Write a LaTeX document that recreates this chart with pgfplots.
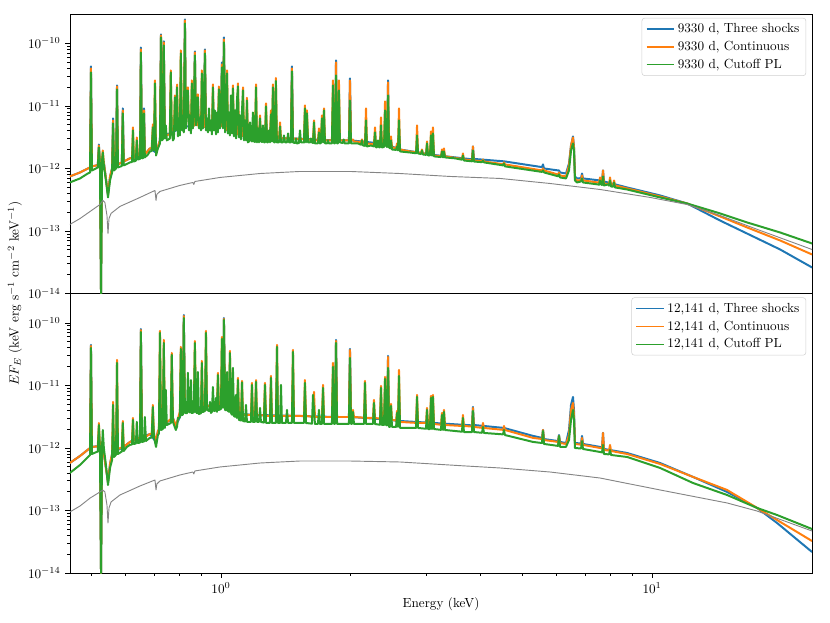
\documentclass[border=0pt]{standalone}
\usepackage{pgfplots}
\pgfplotsset{compat=1.18}
\definecolor{cb}{HTML}{1F77B4}
\definecolor{co}{HTML}{FF7F0E}
\definecolor{cg}{HTML}{2CA02C}
\definecolor{cgr}{HTML}{858585}
\begin{document}
\begin{tikzpicture}
\useasboundingbox (-53.0pt,-37.1pt) rectangle (575.9pt,434.2pt);
% ---------------- bottom panel ----------------
\begin{axis}[at={(0pt,0pt)}, anchor=south west,
  scale only axis, width=562.3pt, height=211.8pt,
  xmode=log, ymode=log, xmin=0.4464, xmax=23.5, ymin=1e-14, ymax=2.95e-10,
  tick align=outside, xtick pos=left, ytick pos=left,
  major tick length=3.5pt, minor tick length=2pt,
  tick style={black, line width=0.5pt},
  axis line style={line width=0.6pt},
  tick label style={font=\fontsize{10}{12}\selectfont},
  legend cell align=left,
  legend style={at={(0.992,0.986)}, anchor=north east, draw=black!18, rounded corners=2pt,
    font=\fontsize{10}{12}\selectfont, inner xsep=3pt, inner ysep=2pt, row sep=1pt},
  legend image code/.code={\draw[#1, line width=1.1pt] (0pt,0pt) -- (21pt,0pt);}]
\addplot[cb, line width=1.5pt, line join=round] coordinates {(0.446,5.75e-13)(0.471,7.45e-13)(0.497,1.0e-12)(0.4994,4.45e-11)(0.502,1.04e-12)(0.524,1.08e-12)(0.527,1e-14)(0.530,1.25e-12)(0.547,2.86e-13)(0.553,5.55e-13)(0.559,8.0e-13)(0.565,8.63e-13)(0.595,1.04e-12)(0.615,1.25e-12)(0.649,1.48e-12)(0.652,8.02e-11)(0.656,1.50e-12)(0.684,1.67e-12)(0.707,1.25e-12)(0.714,1.87e-12)(0.741,2.42e-12)(0.774,3.02e-12)(0.786,2.25e-12)(0.816,4.0e-12)(0.820,1.34e-10)(0.825,4.21e-12)(0.875,4.37e-12)(0.928,4.70e-12)(1.011,5.06e-12)(1.016,1.20e-10)(1.022,4.70e-12)(1.101,3.50e-12)(1.212,3.37e-12)(1.525,3.25e-12)(1.839,3.13e-12)(1.849,5.35e-11)(1.859,3.13e-12)(1.981,3.13e-12)(1.992,3.84e-11)(2.003,3.13e-12)(2.428,2.85e-12)(2.441,2.97e-11)(2.454,2.81e-12)(2.602,2.70e-12)(3.120,2.51e-12)(3.822,2.30e-12)(3.842,4.53e-12)(3.862,2.33e-12)(4.534,2.09e-12)(5.294,1.56e-12)(5.555,1.45e-12)(5.585,1.94e-12)(5.615,1.39e-12)(6.05,1.29e-12)(6.083,1.61e-12)(6.116,1.25e-12)(6.315,1.20e-12)(6.417,1.94e-12)(6.486,4.88e-12)(6.555,6.55e-12)(6.590,4.06e-12)(6.625,1.20e-12)(6.843,1.18e-12)(6.879,1.56e-12)(6.916,1.16e-12)(7.574,1.04e-12)(7.655,1.02e-12)(7.696,1.74e-12)(7.737,9.64e-13)(8.750,8.32e-13)(10.44,5.75e-13)(12.45,3.44e-13)(14.93,1.98e-13)(17.52,1.10e-13)(19.50,6.31e-14)(23.50,2.17e-14)};
\addlegendentry{12,141 d, Three shocks}
\addplot[co, line width=1.5pt, line join=round] coordinates {(0.446,5.75e-13)(0.471,7.45e-13)(0.497,1.0e-12)(0.4994,4.29e-11)(0.502,1.04e-12)(0.518,1.06e-12)(0.521,2.51e-12)(0.524,1.08e-12)(0.527,1e-14)(0.530,1.25e-12)(0.547,2.86e-13)(0.553,5.55e-13)(0.559,8.0e-13)(0.562,5.45e-12)(0.565,8.63e-13)(0.571,9.3e-13)(0.574,2.56e-11)(0.577,9.64e-13)(0.589,1.02e-12)(0.592,2.70e-12)(0.595,1.04e-12)(0.615,1.25e-12)(0.622,1.3e-12)(0.625,3.02e-12)(0.628,1.34e-12)(0.649,1.48e-12)(0.652,7.73e-11)(0.656,1.50e-12)(0.674,1.56e-12)(0.684,1.67e-12)(0.691,1.7e-12)(0.695,4.88e-12)(0.699,1.74e-12)(0.707,1.25e-12)(0.714,1.87e-12)(0.718,1.95e-12)(0.722,7.45e-11)(0.726,2.25e-12)(0.733,2.35e-12)(0.737,5.35e-11)(0.741,2.42e-12)(0.765,2.9e-12)(0.769,3.31e-11)(0.774,3.02e-12)(0.786,2.25e-12)(0.803,3.8e-12)(0.807,4.13e-11)(0.812,3.91e-12)(0.816,4.0e-12)(0.820,1.29e-10)(0.825,4.21e-12)(0.865,4.3e-12)(0.870,5.15e-11)(0.875,4.37e-12)(0.899,4.37e-12)(0.903,2.47e-11)(0.908,4.37e-12)(0.918,4.5e-12)(0.923,7.45e-11)(0.928,4.70e-12)(0.979,4.7e-12)(0.984,1.59e-11)(0.989,4.70e-12)(1.000,4.9e-12)(1.005,5.97e-11)(1.011,5.06e-12)(1.016,1.16e-10)(1.022,4.70e-12)(1.044,4.3e-12)(1.049,3.57e-11)(1.055,4.21e-12)(1.089,3.55e-12)(1.095,1.32e-11)(1.101,3.50e-12)(1.113,3.4e-12)(1.119,1.18e-11)(1.125,3.37e-12)(1.174,3.37e-12)(1.180,1.10e-11)(1.186,3.37e-12)(1.199,3.37e-12)(1.206,1.22e-11)(1.212,3.37e-12)(1.258,3.3e-12)(1.265,1.10e-11)(1.272,3.25e-12)(1.299,3.25e-12)(1.306,1.42e-11)(1.313,3.25e-12)(1.341,3.25e-12)(1.349,4.45e-11)(1.356,3.25e-12)(1.461,3.25e-12)(1.469,3.70e-11)(1.477,3.25e-12)(1.558,3.25e-12)(1.566,1.22e-11)(1.575,3.25e-12)(1.635,3.15e-12)(1.644,7.87e-12)(1.652,3.13e-12)(1.715,3.13e-12)(1.725,1.02e-11)(1.734,3.13e-12)(1.809,3.13e-12)(1.819,2.29e-11)(1.829,3.13e-12)(1.839,3.13e-12)(1.849,5.15e-11)(1.859,3.13e-12)(1.981,3.13e-12)(1.992,3.70e-11)(2.003,3.13e-12)(2.013,3.13e-12)(2.024,4.06e-12)(2.035,3.13e-12)(2.147,3.05e-12)(2.158,1.18e-11)(2.170,3.02e-12)(2.252,3.02e-12)(2.264,5.86e-12)(2.277,3.02e-12)(2.338,2.95e-12)(2.351,9.82e-12)(2.363,2.91e-12)(2.389,2.91e-12)(2.402,1.37e-11)(2.415,2.91e-12)(2.428,2.85e-12)(2.441,2.86e-11)(2.454,2.81e-12)(2.467,2.81e-12)(2.480,5.06e-12)(2.493,2.81e-12)(2.548,2.75e-12)(2.561,3.91e-12)(2.574,2.70e-12)(2.588,1.77e-11)(2.602,2.61e-12)(2.835,2.52e-12)(2.850,7.05e-12)(2.865,2.51e-12)(2.990,2.51e-12)(3.006,4.37e-12)(3.022,2.51e-12)(3.054,2.51e-12)(3.070,6.79e-12)(3.087,2.51e-12)(3.103,7.05e-12)(3.120,2.42e-12)(3.239,2.35e-12)(3.256,3.63e-12)(3.274,2.33e-12)(3.291,4.06e-12)(3.309,2.33e-12)(3.623,2.25e-12)(3.642,3.37e-12)(3.661,2.25e-12)(3.822,2.2e-12)(3.842,4.37e-12)(3.862,2.17e-12)(4.032,2.1e-12)(4.053,2.51e-12)(4.074,2.09e-12)(4.510,1.95e-12)(4.534,2.25e-12)(4.558,1.94e-12)(5.294,1.45e-12)(5.555,1.39e-12)(5.585,1.94e-12)(5.615,1.34e-12)(6.05,1.25e-12)(6.083,1.56e-12)(6.116,1.20e-12)(6.315,1.16e-12)(6.417,1.61e-12)(6.486,4.06e-12)(6.555,5.25e-12)(6.590,3.37e-12)(6.625,1.16e-12)(6.843,1.13e-12)(6.879,1.45e-12)(6.916,1.12e-12)(7.574,1.0e-12)(7.655,9.9e-13)(7.696,1.74e-12)(7.737,9.29e-13)(7.947,9.1e-13)(7.990,1.12e-12)(8.033,8.95e-13)(8.750,8.02e-13)(10.44,5.55e-13)(12.45,3.44e-13)(14.93,2.13e-13)(17.52,1.10e-13)(19.50,7.05e-14)(23.50,3.25e-14)};
\addlegendentry{12,141 d, Continuous}
\addplot[cg, line width=1.5pt, line join=round] coordinates {(0.446,3.98e-13)(0.471,5.35e-13)(0.497,7.73e-13)(0.4994,3.98e-11)(0.502,8.02e-13)(0.518,8.8e-13)(0.521,2.33e-12)(0.524,9.29e-13)(0.527,1e-14)(0.530,1.08e-12)(0.532,1.94e-12)(0.535,1.0e-12)(0.541,5.35e-13)(0.547,2.56e-13)(0.553,4.79e-13)(0.559,6.43e-13)(0.562,4.88e-12)(0.565,7.18e-13)(0.571,7.8e-13)(0.574,2.29e-11)(0.577,8.02e-13)(0.589,8.8e-13)(0.592,2.51e-12)(0.595,8.95e-13)(0.605,1.04e-12)(0.615,1.12e-12)(0.622,1.14e-12)(0.625,2.81e-12)(0.628,1.16e-12)(0.635,1.18e-12)(0.638,2.61e-12)(0.642,1.20e-12)(0.649,1.22e-12)(0.652,7.18e-11)(0.656,1.25e-12)(0.663,1.27e-12)(0.666,3.13e-12)(0.670,1.29e-12)(0.674,1.34e-12)(0.684,1.45e-12)(0.691,1.47e-12)(0.695,4.53e-12)(0.699,1.50e-12)(0.707,1.04e-12)(0.714,1.61e-12)(0.718,1.7e-12)(0.722,6.92e-11)(0.726,1.94e-12)(0.733,2.0e-12)(0.737,4.79e-11)(0.741,2.09e-12)(0.745,8.47e-12)(0.749,2.33e-12)(0.765,2.5e-12)(0.769,3.08e-11)(0.774,2.61e-12)(0.786,1.94e-12)(0.791,2.2e-12)(0.795,3.02e-12)(0.799,3.0e-12)(0.803,3.1e-12)(0.807,3.84e-11)(0.812,3.37e-12)(0.816,3.4e-12)(0.820,1.20e-10)(0.825,3.63e-12)(0.834,3.6e-12)(0.838,1.59e-11)(0.843,3.77e-12)(0.847,3.7e-12)(0.852,1.22e-11)(0.856,3.63e-12)(0.865,3.7e-12)(0.870,4.79e-11)(0.875,3.77e-12)(0.880,3.6e-12)(0.884,1.64e-11)(0.889,3.50e-12)(0.899,3.6e-12)(0.903,2.29e-11)(0.908,3.77e-12)(0.918,3.9e-12)(0.923,6.92e-11)(0.928,4.06e-12)(0.938,3.9e-12)(0.943,5.45e-12)(0.948,3.63e-12)(0.953,3.8e-12)(0.958,9.46e-12)(0.963,3.91e-12)(0.968,3.9e-12)(0.974,6.31e-12)(0.979,3.77e-12)(0.984,1.47e-11)(0.989,4.06e-12)(1.000,4.2e-12)(1.005,5.55e-11)(1.011,4.37e-12)(1.016,1.12e-10)(1.022,4.06e-12)(1.027,4.0e-12)(1.033,1.64e-11)(1.038,3.91e-12)(1.044,3.8e-12)(1.049,3.31e-11)(1.055,3.63e-12)(1.061,3.4e-12)(1.066,1.91e-11)(1.072,3.25e-12)(1.078,3.15e-12)(1.084,7.05e-12)(1.089,3.02e-12)(1.095,1.22e-11)(1.101,2.81e-12)(1.113,2.75e-12)(1.119,1.12e-11)(1.125,2.70e-12)(1.137,2.65e-12)(1.143,4.88e-12)(1.149,2.61e-12)(1.174,2.61e-12)(1.180,1.02e-11)(1.186,2.61e-12)(1.199,2.61e-12)(1.206,1.14e-11)(1.212,2.61e-12)(1.225,2.61e-12)(1.232,4.37e-12)(1.238,2.61e-12)(1.258,2.55e-12)(1.265,1.02e-11)(1.272,2.51e-12)(1.299,2.51e-12)(1.306,1.32e-11)(1.313,2.51e-12)(1.341,2.51e-12)(1.349,4.13e-11)(1.356,2.51e-12)(1.371,2.51e-12)(1.378,1.02e-11)(1.385,2.51e-12)(1.415,2.51e-12)(1.423,4.06e-12)(1.431,2.51e-12)(1.461,2.51e-12)(1.469,3.44e-11)(1.477,2.51e-12)(1.525,2.51e-12)(1.558,2.51e-12)(1.566,1.10e-11)(1.575,2.51e-12)(1.626,2.45e-12)(1.635,7.05e-12)(1.652,2.42e-12)(1.679,2.42e-12)(1.688,4.06e-12)(1.697,2.42e-12)(1.715,2.42e-12)(1.725,9.12e-12)(1.734,2.42e-12)(1.809,2.42e-12)(1.819,1.98e-11)(1.829,2.42e-12)(1.839,2.42e-12)(1.849,4.79e-11)(1.859,2.42e-12)(1.981,2.42e-12)(1.992,2.75e-11)(2.003,2.42e-12)(2.013,2.42e-12)(2.024,3.77e-12)(2.035,2.42e-12)(2.147,2.42e-12)(2.158,1.10e-11)(2.170,2.42e-12)(2.252,2.42e-12)(2.264,5.25e-12)(2.277,2.42e-12)(2.338,2.35e-12)(2.351,9.12e-12)(2.363,2.33e-12)(2.389,2.33e-12)(2.402,1.27e-11)(2.415,2.33e-12)(2.428,2.3e-12)(2.441,1.91e-11)(2.454,2.17e-12)(2.467,2.17e-12)(2.480,4.70e-12)(2.493,2.17e-12)(2.548,2.17e-12)(2.561,3.63e-12)(2.574,2.17e-12)(2.588,1.42e-11)(2.602,2.09e-12)(2.835,2.09e-12)(2.850,6.55e-12)(2.865,2.09e-12)(2.990,2.03e-12)(3.006,4.06e-12)(3.022,2.01e-12)(3.054,2.01e-12)(3.070,6.31e-12)(3.087,2.01e-12)(3.103,6.55e-12)(3.120,2.01e-12)(3.239,1.95e-12)(3.256,3.37e-12)(3.274,1.94e-12)(3.291,3.77e-12)(3.309,1.94e-12)(3.623,1.82e-12)(3.642,3.02e-12)(3.661,1.80e-12)(3.822,1.80e-12)(3.842,3.91e-12)(3.862,1.80e-12)(4.032,1.75e-12)(4.053,2.17e-12)(4.074,1.74e-12)(4.510,1.65e-12)(4.534,1.94e-12)(4.558,1.61e-12)(5.294,1.25e-12)(5.555,1.20e-12)(5.585,1.87e-12)(5.615,1.16e-12)(6.05,1.08e-12)(6.083,1.56e-12)(6.116,1.04e-12)(6.315,1.04e-12)(6.417,1.34e-12)(6.486,2.81e-12)(6.555,4.06e-12)(6.590,2.81e-12)(6.625,1.0e-12)(6.843,9.8e-13)(6.879,1.29e-12)(6.916,9.64e-13)(7.574,8.63e-13)(7.655,8.5e-13)(7.696,1.12e-12)(7.737,8.02e-13)(7.947,7.9e-13)(7.990,9.29e-13)(8.033,7.73e-13)(8.750,7.18e-13)(10.44,4.79e-13)(12.45,2.75e-13)(14.93,1.77e-13)(17.52,1.10e-13)(19.50,8.47e-14)(23.50,5.06e-14)};
\addlegendentry{12,141 d, Cutoff PL}
\addplot[cgr, line width=0.7pt, line join=round, forget plot] coordinates {(0.446,9.46e-14)(0.471,1.18e-13)(0.497,1.58e-13)(0.524,1.98e-13)(0.532,2.13e-13)(0.538,1.98e-13)(0.544,1.22e-13)(0.547,6.31e-14)(0.550,1.10e-13)(0.556,1.37e-13)(0.583,1.77e-13)(0.649,2.47e-13)(0.703,3.08e-13)(0.707,2.13e-13)(0.710,2.65e-13)(0.722,2.97e-13)(0.803,3.70e-13)(0.861,4.13e-13)(0.865,3.84e-13)(0.870,4.29e-13)(0.995,4.97e-13)(1.232,5.75e-13)(1.525,6.19e-13)(1.992,6.19e-13)(2.602,5.97e-13)(3.702,5.15e-13)(4.439,4.79e-13)(5.798,4.13e-13)(7.574,3.31e-13)(10.44,2.13e-13)(14.93,1.32e-13)(17.52,9.82e-14)(23.50,4.70e-14)};
\end{axis}
% ---------------- top panel ----------------
\begin{axis}[at={(0pt,211.8pt)}, anchor=south west,
  scale only axis, width=562.3pt, height=211.8pt,
  xmode=log, ymode=log, xmin=0.4464, xmax=23.5, ymin=1e-14, ymax=2.95e-10,
  tick align=outside, ytick pos=left, xmajorticks=false, xminorticks=false,
  major tick length=3.5pt, minor tick length=2pt,
  tick style={black, line width=0.5pt},
  axis line style={line width=0.6pt},
  tick label style={font=\fontsize{10}{12}\selectfont},
  legend cell align=left,
  legend style={at={(0.992,0.986)}, anchor=north east, draw=black!18, rounded corners=2pt,
    font=\fontsize{10}{12}\selectfont, inner xsep=3pt, inner ysep=2pt, row sep=1pt},
  legend image code/.code={\draw[#1, line width=1.1pt] (0pt,0pt) -- (21pt,0pt);}]
\addplot[cb, line width=1.5pt, line join=round] coordinates {(0.446,7.45e-13)(0.471,8.63e-13)(0.497,1.04e-12)(0.4994,4.29e-11)(0.502,1.08e-12)(0.518,1.13e-12)(0.521,2.42e-12)(0.524,1.20e-12)(0.527,1e-14)(0.530,1.45e-12)(0.535,1.25e-12)(0.547,3.84e-13)(0.553,7.45e-13)(0.559,1.0e-12)(0.562,6.31e-12)(0.565,1.08e-12)(0.571,1.13e-12)(0.574,2.13e-11)(0.577,1.16e-12)(0.589,1.25e-12)(0.592,9.12e-12)(0.595,1.29e-12)(0.615,1.45e-12)(0.649,1.58e-12)(0.652,8.63e-11)(0.656,1.61e-12)(0.660,1.63e-12)(0.663,9.12e-12)(0.666,1.67e-12)(0.684,2.09e-12)(0.707,1.80e-12)(0.722,2.81e-12)(0.726,1.39e-10)(0.729,3.13e-12)(0.733,3.2e-12)(0.737,1.08e-10)(0.741,3.37e-12)(0.820,4.6e-12)(0.825,2.42e-10)(0.829,4.70e-12)(0.865,4.8e-12)(0.870,7.45e-11)(0.875,5.06e-12)(0.913,4.6e-12)(0.918,8.02e-11)(0.923,4.53e-12)(1.000,4.7e-12)(1.005,4.97e-11)(1.011,4.70e-12)(1.016,1.25e-10)(1.022,4.21e-12)(1.131,3.25e-12)(1.212,3.13e-12)(1.378,3.02e-12)(1.453,3.02e-12)(1.461,4.29e-11)(1.469,3.02e-12)(1.839,2.81e-12)(1.849,5.35e-11)(1.859,2.81e-12)(1.981,2.81e-12)(1.992,2.75e-11)(2.003,2.81e-12)(2.428,2.45e-12)(2.441,2.56e-11)(2.454,2.33e-12)(2.602,2.01e-12)(3.103,1.65e-12)(3.822,1.40e-12)(3.842,2.25e-12)(3.862,1.42e-12)(4.534,1.30e-12)(5.555,1.05e-12)(5.585,1.16e-12)(5.615,1.0e-12)(6.050,9.3e-13)(6.083,9.29e-13)(6.116,8.63e-13)(6.315,8.30e-13)(6.417,1.20e-12)(6.486,2.33e-12)(6.555,3.25e-12)(6.590,2.25e-12)(6.625,7.45e-13)(6.696,6.92e-13)(6.843,7.0e-13)(6.879,8.30e-13)(6.916,6.92e-13)(7.574,6.43e-13)(7.655,6.3e-13)(7.696,9.29e-13)(7.737,6.19e-13)(8.750,4.97e-13)(10.44,3.70e-13)(12.06,2.75e-13)(14.38,1.47e-13)(16.61,9.10e-14)(19.82,5.06e-14)(23.50,2.61e-14)};
\addlegendentry{9330 d, Three shocks}
\addplot[co, line width=1.5pt, line join=round] coordinates {(0.446,7.45e-13)(0.471,8.63e-13)(0.497,1.04e-12)(0.4994,3.98e-11)(0.502,1.08e-12)(0.518,1.13e-12)(0.521,2.33e-12)(0.524,1.20e-12)(0.527,1e-14)(0.530,1.45e-12)(0.532,1.94e-12)(0.535,1.25e-12)(0.547,3.84e-13)(0.553,7.45e-13)(0.559,1.0e-12)(0.562,5.86e-12)(0.565,1.08e-12)(0.571,1.13e-12)(0.574,2.05e-11)(0.577,1.16e-12)(0.589,1.25e-12)(0.592,8.47e-12)(0.595,1.29e-12)(0.615,1.45e-12)(0.622,1.47e-12)(0.625,4.53e-12)(0.628,1.50e-12)(0.635,1.53e-12)(0.638,3.13e-12)(0.642,1.56e-12)(0.649,1.58e-12)(0.652,8.02e-11)(0.656,1.61e-12)(0.660,1.63e-12)(0.663,8.47e-12)(0.666,1.67e-12)(0.684,2.09e-12)(0.691,2.12e-12)(0.695,5.06e-12)(0.699,2.17e-12)(0.703,2.56e-11)(0.707,1.80e-12)(0.722,2.81e-12)(0.726,1.34e-10)(0.729,3.13e-12)(0.733,3.2e-12)(0.737,1.04e-10)(0.741,3.37e-12)(0.761,3.5e-12)(0.765,3.70e-11)(0.769,4.06e-12)(0.778,4.1e-12)(0.782,1.47e-11)(0.786,4.37e-12)(0.791,2.2e-11)(0.795,4.4e-12)(0.803,4.4e-12)(0.807,7.73e-11)(0.812,4.53e-12)(0.820,4.6e-12)(0.825,2.33e-10)(0.829,4.70e-12)(0.834,1.35e-11)(0.838,1.98e-11)(0.843,4.53e-12)(0.852,4.6e-12)(0.856,2.56e-11)(0.861,4.70e-12)(0.865,4.8e-12)(0.870,7.18e-11)(0.875,5.06e-12)(0.880,4.9e-12)(0.884,1.53e-11)(0.889,4.70e-12)(0.899,4.7e-12)(0.903,3.70e-11)(0.908,4.70e-12)(0.913,4.6e-12)(0.918,7.73e-11)(0.923,4.53e-12)(0.953,4.5e-12)(0.958,2.21e-11)(0.963,4.53e-12)(0.984,4.6e-12)(0.989,2.05e-11)(0.995,4.70e-12)(1.000,4.7e-12)(1.005,4.61e-11)(1.011,4.70e-12)(1.016,1.16e-10)(1.022,4.21e-12)(1.027,4.1e-12)(1.033,3.70e-11)(1.038,4.06e-12)(1.061,3.7e-12)(1.066,2.13e-11)(1.072,3.63e-12)(1.089,3.5e-12)(1.095,2.29e-11)(1.101,3.50e-12)(1.119,3.3e-12)(1.125,1.98e-11)(1.131,3.25e-12)(1.143,3.2e-12)(1.149,1.35e-11)(1.155,3.2e-12)(1.199,3.15e-12)(1.206,2.21e-11)(1.212,3.13e-12)(1.225,3.13e-12)(1.232,7.05e-12)(1.238,3.13e-12)(1.265,3.13e-12)(1.272,1.10e-11)(1.279,3.13e-12)(1.299,3.13e-12)(1.306,8.47e-12)(1.313,3.13e-12)(1.320,2.21e-11)(1.327,3.13e-12)(1.334,3.13e-12)(1.341,2.8e-11)(1.348,3.13e-12)(1.364,3.05e-12)(1.371,5.45e-12)(1.378,3.02e-12)(1.453,3.02e-12)(1.461,3.98e-11)(1.469,3.02e-12)(1.558,2.92e-12)(1.566,1.02e-11)(1.575,2.91e-12)(1.583,8.47e-12)(1.592,2.91e-12)(1.635,2.85e-12)(1.644,5.86e-12)(1.652,2.81e-12)(1.679,2.81e-12)(1.688,4.37e-12)(1.697,2.81e-12)(1.706,2.81e-12)(1.715,7.05e-12)(1.725,2.81e-12)(1.734,9.12e-12)(1.743,2.81e-12)(1.809,2.81e-12)(1.819,2.56e-11)(1.829,2.81e-12)(1.839,2.81e-12)(1.849,4.97e-11)(1.859,2.81e-12)(1.868,2.81e-12)(1.878,2.56e-11)(1.888,2.81e-12)(1.981,2.81e-12)(1.992,2.56e-11)(2.003,2.81e-12)(2.024,2.91e-12)(2.035,2.70e-12)(2.112,2.65e-12)(2.124,2.91e-12)(2.135,2.61e-12)(2.158,2.55e-12)(2.170,9.12e-12)(2.181,2.51e-12)(2.264,2.45e-12)(2.277,4.53e-12)(2.289,2.42e-12)(2.338,2.42e-12)(2.351,6.55e-12)(2.363,2.42e-12)(2.389,2.45e-12)(2.402,1.18e-11)(2.415,2.51e-12)(2.428,2.45e-12)(2.441,2.38e-11)(2.454,2.33e-12)(2.467,2.25e-12)(2.480,3.25e-12)(2.493,2.17e-12)(2.548,2.12e-12)(2.561,2.51e-12)(2.574,2.09e-12)(2.588,9.12e-12)(2.602,2.01e-12)(2.744,1.87e-12)(2.835,1.82e-12)(2.850,4.88e-12)(2.865,1.80e-12)(2.911,1.77e-12)(2.926,2.01e-12)(2.942,1.74e-12)(2.990,1.7e-12)(3.006,2.70e-12)(3.022,1.67e-12)(3.054,1.67e-12)(3.070,3.91e-12)(3.087,1.67e-12)(3.103,4.53e-12)(3.120,1.61e-12)(3.239,1.57e-12)(3.256,2.01e-12)(3.274,1.56e-12)(3.291,2.09e-12)(3.309,1.56e-12)(3.623,1.42e-12)(3.642,1.74e-12)(3.661,1.39e-12)(3.822,1.35e-12)(3.842,2.25e-12)(3.862,1.34e-12)(4.032,1.3e-12)(4.053,1.39e-12)(4.074,1.29e-12)(4.510,1.17e-12)(4.534,1.25e-12)(4.558,1.16e-12)(5.555,9.3e-13)(5.585,1.0e-12)(5.615,9.29e-13)(6.050,8.0e-13)(6.083,8.63e-13)(6.116,7.73e-13)(6.315,7.45e-13)(6.417,1.12e-12)(6.486,2.33e-12)(6.555,3.13e-12)(6.590,2.17e-12)(6.625,6.92e-13)(6.696,6.43e-13)(6.843,6.5e-13)(6.879,7.73e-13)(6.916,6.43e-13)(7.493,5.97e-13)(7.534,5.95e-13)(7.574,7.18e-13)(7.615,5.97e-13)(7.655,5.9e-13)(7.696,9.29e-13)(7.737,5.75e-13)(7.905,5.6e-13)(7.947,5.6e-13)(7.990,7.18e-13)(8.033,5.55e-13)(8.120,5.4e-13)(8.162,6.43e-13)(8.206,5.35e-13)(8.750,4.80e-13)(10.44,3.56e-13)(12.06,2.75e-13)(14.38,1.71e-13)(16.61,1.14e-13)(19.82,7.05e-14)(23.50,4.21e-14)};
\addlegendentry{9330 d, Continuous}
\addplot[cg, line width=1.5pt, line join=round] coordinates {(0.446,5.97e-13)(0.471,6.92e-13)(0.491,8.30e-13)(0.497,8.63e-13)(0.4994,3.44e-11)(0.502,9.29e-13)(0.513,1.0e-12)(0.518,1.04e-12)(0.521,2.17e-12)(0.524,1.12e-12)(0.527,1e-14)(0.530,1.34e-12)(0.532,1.80e-12)(0.535,1.12e-12)(0.541,6.43e-13)(0.547,3.44e-13)(0.553,6.43e-13)(0.559,8.63e-13)(0.562,5.25e-12)(0.565,9.29e-13)(0.571,1.0e-12)(0.574,1.84e-11)(0.577,1.04e-12)(0.586,1.08e-12)(0.589,1.10e-12)(0.592,7.59e-12)(0.595,1.12e-12)(0.608,1.20e-12)(0.615,1.25e-12)(0.622,1.27e-12)(0.625,4.06e-12)(0.628,1.29e-12)(0.635,1.33e-12)(0.638,2.81e-12)(0.642,1.39e-12)(0.649,1.42e-12)(0.652,7.18e-11)(0.656,1.45e-12)(0.660,1.47e-12)(0.663,7.59e-12)(0.666,1.50e-12)(0.677,1.67e-12)(0.684,1.87e-12)(0.691,1.90e-12)(0.695,4.53e-12)(0.699,1.94e-12)(0.703,2.29e-11)(0.707,1.61e-12)(0.714,2.09e-12)(0.722,2.5e-12)(0.726,1.25e-10)(0.729,2.81e-12)(0.733,2.9e-12)(0.737,9.29e-11)(0.741,3.02e-12)(0.745,4.88e-12)(0.749,2.81e-12)(0.761,3.0e-12)(0.765,3.44e-11)(0.769,3.77e-12)(0.774,2.81e-12)(0.778,3.0e-12)(0.782,1.37e-11)(0.786,4.06e-12)(0.791,1.98e-11)(0.795,3.25e-12)(0.799,6.31e-12)(0.803,3.37e-12)(0.807,6.92e-11)(0.812,4.06e-12)(0.816,4.88e-12)(0.820,3.77e-12)(0.825,2.09e-10)(0.829,4.37e-12)(0.834,1.22e-11)(0.838,1.77e-11)(0.843,4.06e-12)(0.847,7.05e-12)(0.852,3.63e-12)(0.856,2.29e-11)(0.861,4.37e-12)(0.865,7.87e-12)(0.870,6.43e-11)(0.875,4.88e-12)(0.880,8.47e-12)(0.884,1.37e-11)(0.889,4.37e-12)(0.894,6.31e-12)(0.899,4.06e-12)(0.903,3.31e-11)(0.908,4.37e-12)(0.913,1.22e-11)(0.918,6.92e-11)(0.923,4.06e-12)(0.928,6.31e-12)(0.933,3.77e-12)(0.938,9.12e-12)(0.943,4.06e-12)(0.948,5.86e-12)(0.953,3.50e-12)(0.958,1.98e-11)(0.963,4.06e-12)(0.968,8.47e-12)(0.974,3.50e-12)(0.979,7.87e-12)(0.984,3.77e-12)(0.989,1.84e-11)(0.995,4.37e-12)(1.000,6.31e-12)(1.005,4.13e-11)(1.011,4.37e-12)(1.016,1.04e-10)(1.022,3.77e-12)(1.027,8.47e-12)(1.033,3.31e-11)(1.038,3.63e-12)(1.044,7.87e-12)(1.049,3.37e-12)(1.055,1.47e-11)(1.061,3.63e-12)(1.066,1.91e-11)(1.072,3.25e-12)(1.078,8.47e-12)(1.084,3.02e-12)(1.089,1.22e-11)(1.095,2.05e-11)(1.101,3.13e-12)(1.107,7.05e-12)(1.113,2.91e-12)(1.119,8.47e-12)(1.125,1.77e-11)(1.131,2.81e-12)(1.137,5.86e-12)(1.143,2.81e-12)(1.149,1.22e-11)(1.155,2.61e-12)(1.161,2.7e-12)(1.168,5.45e-12)(1.174,2.81e-12)(1.180,2.7e-12)(1.186,7.87e-12)(1.193,2.70e-12)(1.199,2.65e-12)(1.206,1.98e-11)(1.212,2.61e-12)(1.219,4.37e-12)(1.225,2.61e-12)(1.232,6.31e-12)(1.238,2.70e-12)(1.245,2.65e-12)(1.251,4.88e-12)(1.258,2.61e-12)(1.265,2.61e-12)(1.272,9.82e-12)(1.279,2.61e-12)(1.285,2.61e-12)(1.292,4.06e-12)(1.299,2.61e-12)(1.306,7.31e-12)(1.313,2.70e-12)(1.320,1.98e-11)(1.327,2.61e-12)(1.334,2.61e-12)(1.341,2.5e-11)(1.348,2.61e-12)(1.364,2.61e-12)(1.371,4.70e-12)(1.378,2.61e-12)(1.393,2.61e-12)(1.400,3.37e-12)(1.408,2.61e-12)(1.423,2.61e-12)(1.431,3.63e-12)(1.438,2.61e-12)(1.453,2.61e-12)(1.461,3.57e-11)(1.469,2.61e-12)(1.485,2.55e-12)(1.493,3.02e-12)(1.501,2.51e-12)(1.517,2.55e-12)(1.525,4.06e-12)(1.533,2.61e-12)(1.558,2.6e-12)(1.566,9.12e-12)(1.575,2.61e-12)(1.583,7.59e-12)(1.592,2.61e-12)(1.609,2.6e-12)(1.617,3.02e-12)(1.626,2.61e-12)(1.635,2.55e-12)(1.644,5.45e-12)(1.652,2.51e-12)(1.679,2.51e-12)(1.688,3.77e-12)(1.697,2.51e-12)(1.706,2.55e-12)(1.715,6.31e-12)(1.725,2.61e-12)(1.734,8.47e-12)(1.743,2.51e-12)(1.762,2.51e-12)(1.771,2.81e-12)(1.780,2.51e-12)(1.809,2.51e-12)(1.819,2.13e-11)(1.829,2.51e-12)(1.839,2.51e-12)(1.849,3.08e-11)(1.859,2.51e-12)(1.868,2.51e-12)(1.878,1.77e-11)(1.888,2.61e-12)(1.916,2.55e-12)(1.926,2.91e-12)(1.937,2.51e-12)(1.981,2.51e-12)(1.992,1.22e-11)(2.003,2.51e-12)(2.079,2.51e-12)(2.112,2.4e-12)(2.124,2.81e-12)(2.135,2.33e-12)(2.158,2.3e-12)(2.170,5.86e-12)(2.181,2.25e-12)(2.228,2.33e-12)(2.264,2.25e-12)(2.277,3.77e-12)(2.289,2.17e-12)(2.301,2.17e-12)(2.314,2.81e-12)(2.326,2.17e-12)(2.338,2.17e-12)(2.351,4.88e-12)(2.363,2.17e-12)(2.389,2.2e-12)(2.402,8.47e-12)(2.415,2.33e-12)(2.428,2.2e-12)(2.441,1.47e-11)(2.454,2.17e-12)(2.467,2.1e-12)(2.480,2.81e-12)(2.493,2.01e-12)(2.548,1.98e-12)(2.561,2.25e-12)(2.574,1.94e-12)(2.588,5.86e-12)(2.602,1.87e-12)(2.744,1.80e-12)(2.835,1.75e-12)(2.850,3.37e-12)(2.865,1.74e-12)(2.911,1.7e-12)(2.926,1.94e-12)(2.942,1.67e-12)(2.990,1.65e-12)(3.006,2.51e-12)(3.022,1.61e-12)(3.054,1.62e-12)(3.070,3.37e-12)(3.087,1.61e-12)(3.103,3.63e-12)(3.120,1.56e-12)(3.239,1.52e-12)(3.256,1.87e-12)(3.274,1.50e-12)(3.291,1.87e-12)(3.309,1.50e-12)(3.493,1.45e-12)(3.623,1.38e-12)(3.642,1.61e-12)(3.661,1.34e-12)(3.822,1.30e-12)(3.842,1.94e-12)(3.862,1.29e-12)(4.032,1.26e-12)(4.053,1.34e-12)(4.074,1.25e-12)(4.510,1.12e-12)(4.534,1.20e-12)(4.558,1.08e-12)(5.555,8.8e-13)(5.585,9.29e-13)(5.615,8.63e-13)(6.050,7.5e-13)(6.083,8.02e-13)(6.116,7.18e-13)(6.315,6.92e-13)(6.417,9.29e-13)(6.486,1.94e-12)(6.555,2.51e-12)(6.590,1.94e-12)(6.625,6.43e-13)(6.696,5.97e-13)(6.843,6.2e-13)(6.879,6.92e-13)(6.916,5.97e-13)(7.493,5.55e-13)(7.534,5.5e-13)(7.574,6.43e-13)(7.615,5.55e-13)(7.655,5.45e-13)(7.696,7.45e-13)(7.737,5.35e-13)(7.905,5.55e-13)(7.947,5.3e-13)(7.990,6.43e-13)(8.033,5.15e-13)(8.120,5.1e-13)(8.162,5.97e-13)(8.206,4.97e-13)(8.750,4.61e-13)(10.44,3.44e-13)(12.06,2.75e-13)(14.38,1.91e-13)(16.61,1.37e-13)(19.82,9.46e-14)(23.50,6.31e-14)};
\addlegendentry{9330 d, Cutoff PL}
\addplot[cgr, line width=0.7pt, line join=round, forget plot] coordinates {(0.446,1.27e-13)(0.471,1.58e-13)(0.497,2.05e-13)(0.524,2.65e-13)(0.532,3.08e-13)(0.538,2.86e-13)(0.544,1.77e-13)(0.547,9.10e-14)(0.550,1.58e-13)(0.556,1.91e-13)(0.583,2.47e-13)(0.649,3.44e-13)(0.703,4.45e-13)(0.707,3.08e-13)(0.710,3.84e-13)(0.722,4.29e-13)(0.803,5.35e-13)(0.861,5.97e-13)(0.865,5.55e-13)(0.870,6.19e-13)(0.995,7.18e-13)(1.232,8.30e-13)(1.525,8.95e-13)(1.992,8.95e-13)(2.602,8.30e-13)(3.398,7.45e-13)(4.439,6.92e-13)(5.798,5.75e-13)(7.574,4.61e-13)(9.894,3.44e-13)(12.06,2.65e-13)(14.38,1.77e-13)(17.81,1.02e-13)(23.50,5.06e-14)};
\end{axis}
\node[rotate=90, font=\fontsize{10}{12}\selectfont] at (-41.7pt,211.8pt) {$EF_E$ (keV erg s$^{-1}$ cm$^{-2}$ keV$^{-1}$)};
\node[font=\fontsize{10}{12}\selectfont] at (281.15pt,-23.5pt) {Energy (keV)};
\end{tikzpicture}
\end{document}
